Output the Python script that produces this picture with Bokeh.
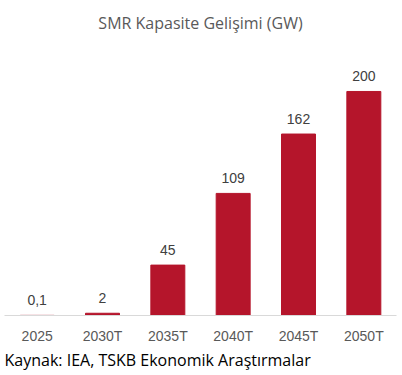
from bokeh.plotting import figure
from bokeh.models import Range1d, Title, ColumnDataSource
from bokeh.core.properties import value
from bokeh.embed import file_html
from bokeh.resources import INLINE

categories = ["2025", "2030T", "2035T", "2040T", "2045T", "2050T"]
values = [0.1, 2, 45, 109, 162, 200]
value_labels = ["0,1", "2", "45", "109", "162", "200"]

BAR = "#B5152B"

src = ColumnDataSource(dict(cat=categories, val=values, lab=value_labels))

p = figure(width=400, height=372, x_range=categories, y_range=Range1d(0, 247.3),
           output_backend="svg", toolbar_location=None,
           min_border_left=4, min_border_right=4, min_border_top=38, min_border_bottom=57)
p.outline_line_color = None
p.background_fill_color = "white"
p.border_fill_color = "white"

p.title.text = "SMR Kapasite Gelişimi (GW)"
p.title.align = "center"
p.title.text_font = "Open Sans"
p.title.text_font_size = "16px"
p.title.text_font_style = "normal"
p.title.text_color = "#595959"

p.vbar(x="cat", top="val", width=0.52, source=src, color=BAR)
p.text(x="cat", y="val", text="lab", source=src, y_offset=-10,
       text_align="center", text_baseline="bottom",
       text_font=value("Liberation Sans"), text_font_size="14px", text_color="#404040")

p.yaxis.visible = False
p.xgrid.visible = False
p.ygrid.visible = False
ax = p.xaxis[0]
ax.axis_line_color = "#D9D9D9"
ax.axis_line_width = 1
ax.major_tick_line_color = None
ax.minor_tick_line_color = None
ax.major_tick_out = 0
ax.major_tick_in = 0
ax.major_label_text_font = "Liberation Sans"
ax.major_label_text_font_size = "14px"
ax.major_label_text_color = "#595959"
ax.major_label_standoff = 12

p.add_layout(Title(text="Kaynak: IEA, TSKB Ekonomik Araştırmalar", align="left",
                   text_font="Open Sans", text_font_size="16px", standoff=0,
                   text_font_style="normal", text_color="#000000"), "below")

open("out.html", "w").write(file_html(p, INLINE))
